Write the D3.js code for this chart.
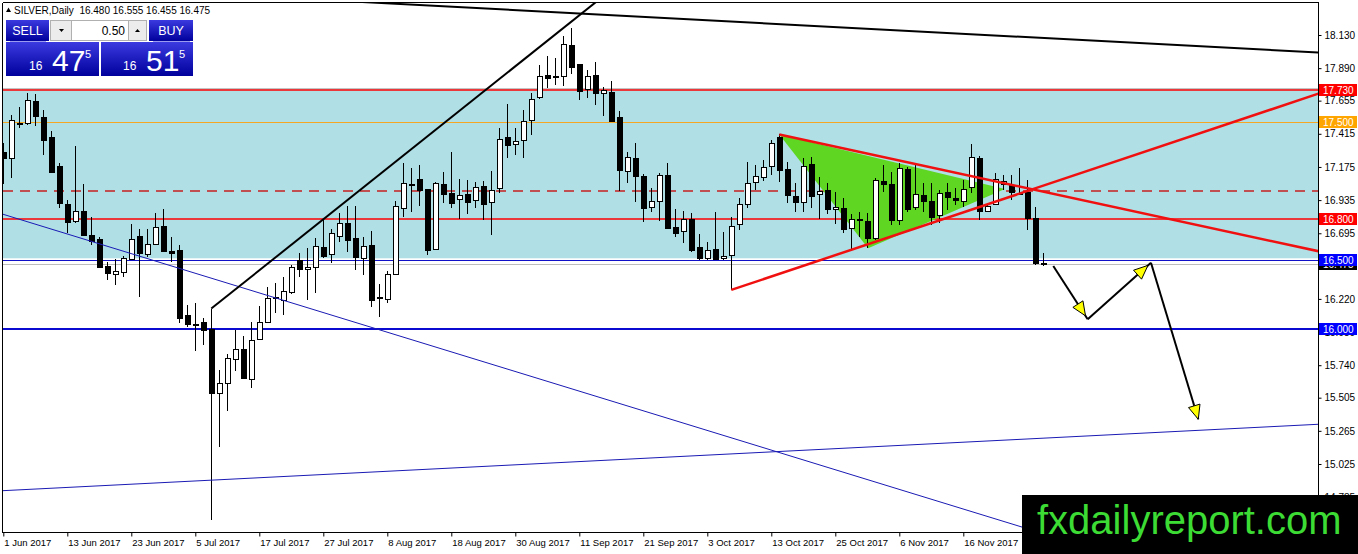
<!DOCTYPE html>
<html>
<head>
<meta charset="utf-8">
<title>SILVER, Daily</title>
<script src="https://cdn.jsdelivr.net/npm/d3@7/dist/d3.min.js"></script>
<style>
    body { margin: 0; background: #ffffff; }
    svg { display: block; font-family: "Liberation Sans", Arial, sans-serif; }
</style>
</head>
<body>
<script>
//daily bars of SILVER starting 1 Jun 2017 (one entry per bar)
var opens = [17.28,17.24,17.485,17.495,17.655,17.54,17.39,17.18,16.91,16.785,16.855,16.68,16.655,16.455,16.40,16.415,16.51,16.675,16.545,16.62,
    16.75,16.565,16.575,16.10,16.04,16.05,16.00,15.54,15.61,15.79,15.855,15.64,15.935,16.05,16.225,16.218,16.27,16.50,16.435,16.45,
    16.595,16.54,16.675,16.77,16.66,16.52,16.61,16.235,16.218,16.40,16.88,17.055,17.09,17.015,16.58,17.05,16.985,16.94,16.98,16.935,
    17.04,16.92,17.02,17.39,17.34,17.37,17.515,17.68,17.84,17.83,17.83,18.058,17.92,17.737,17.84,17.71,17.72,17.535,17.146,17.242,
    17.112,16.888,16.93,17.117,16.74,16.712,16.80,16.594,16.514,16.58,16.514,16.538,16.762,16.907,17.064,17.10,17.177,17.394,17.158,16.965,
    16.92,17.194,16.977,17.01,16.871,16.876,16.731,16.80,16.784,16.659,17.074,17.05,16.791,17.158,16.88,16.972,16.929,16.822,16.992,16.948,
    16.929,17.025,17.238,16.856,16.905,17.05,17.045,16.99,16.992,16.804,16.480];
var highs = [17.35,17.55,17.61,17.71,17.70,17.59,17.435,17.205,16.935,17.33,17.05,16.81,16.67,16.49,16.51,16.53,16.76,16.725,16.725,16.845,
    16.87,16.67,16.61,16.175,16.19,16.08,16.15,15.705,15.82,15.995,15.95,16.05,16.17,16.305,16.335,16.38,16.466,16.555,16.585,16.66,
    16.79,16.725,16.84,16.89,16.89,16.665,16.715,16.33,16.42,16.925,17.205,17.165,17.19,17.015,17.065,17.14,17.28,17.09,17.08,17.065,
    17.07,17.145,17.455,17.63,17.455,17.59,17.71,17.915,17.98,17.96,18.12,18.18,17.92,17.877,17.937,17.756,17.80,17.58,17.28,17.35,
    17.124,17.02,17.13,17.20,16.869,16.856,16.844,16.688,16.634,16.847,16.707,16.815,16.948,17.209,17.19,17.225,17.37,17.41,17.209,17.057,
    17.242,17.25,17.10,17.057,16.996,16.948,16.833,16.851,16.84,17.093,17.19,17.14,17.20,17.177,17.20,17.057,17.057,17.008,17.057,17.02,
    17.08,17.339,17.257,16.912,17.129,17.117,17.117,17.165,17.08,16.888,16.555];
var lows = [17.05,17.095,17.46,17.48,17.47,17.26,17.14,16.88,16.70,16.77,16.68,16.61,16.445,16.36,16.32,16.38,16.50,16.235,16.52,16.61,
    16.56,16.49,16.045,16.02,15.84,15.885,14.62,15.15,15.41,15.70,15.645,15.575,15.92,16.05,16.12,16.105,16.256,16.38,16.21,16.26,
    16.515,16.48,16.635,16.56,16.43,16.395,16.16,16.09,16.19,16.40,16.815,16.85,16.89,16.54,16.575,16.915,16.88,16.795,16.835,16.875,
    16.79,16.68,16.99,17.24,17.26,17.24,17.405,17.67,17.745,17.77,17.76,17.85,17.66,17.672,17.624,17.544,17.51,17.00,17.061,16.92,
    16.78,16.852,16.786,16.73,16.67,16.627,16.562,16.50,16.50,16.50,16.50,16.285,16.72,16.88,17.01,17.07,17.117,17.064,16.912,16.852,
    16.847,16.876,16.80,16.833,16.76,16.695,16.567,16.67,16.587,16.647,16.996,16.755,16.755,16.852,16.864,16.847,16.755,16.767,16.864,16.90,
    16.888,16.985,16.791,16.847,16.90,17.008,16.936,16.972,16.719,16.466,16.455];
var closes = [17.235,17.515,17.495,17.66,17.545,17.37,17.14,16.91,16.78,16.855,16.68,16.635,16.455,16.405,16.42,16.515,16.655,16.55,16.615,16.74,
    16.57,16.55,16.085,16.035,16.03,15.99,15.54,15.61,15.79,15.86,15.645,15.925,16.055,16.225,16.235,16.28,16.45,16.435,16.45,16.60,
    16.53,16.695,16.77,16.645,16.525,16.605,16.21,16.225,16.40,16.89,17.06,17.05,17.01,16.575,17.06,16.975,16.915,16.97,16.925,17.03,
    16.91,17.005,17.375,17.33,17.365,17.51,17.665,17.83,17.815,17.83,18.065,17.90,17.727,17.833,17.708,17.73,17.51,17.148,17.245,17.112,
    16.883,16.93,17.12,16.731,16.70,16.80,16.574,16.514,16.574,16.507,16.53,16.75,16.907,17.057,17.11,17.172,17.346,17.158,16.967,16.92,
    17.184,16.96,17.0,16.871,16.888,16.726,16.799,16.791,16.659,17.08,17.054,16.791,17.165,16.871,16.977,16.931,16.815,16.984,16.953,16.931,
    17.013,17.245,16.856,16.895,17.086,17.075,16.992,16.98,16.804,16.478,16.475];

//time scale labels, one every 8 bars
var dateLabels = ["1 Jun 2017","13 Jun 2017","23 Jun 2017","5 Jul 2017","17 Jul 2017","27 Jul 2017","8 Aug 2017","18 Aug 2017",
    "30 Aug 2017","11 Sep 2017","21 Sep 2017","3 Oct 2017","13 Oct 2017","25 Oct 2017","6 Nov 2017","16 Nov 2017"];
var barsPerLabel = 8;

//price scale tick labels
var priceTicks = [18.130,17.890,17.655,17.415,17.175,16.935,16.695,16.455,16.220,15.980,15.740,15.505,15.265,15.025,14.785];

//horizontal levels
var zonePrices = [17.744, 16.514]; //light blue support/resistance box
var redLevels = [17.730, 16.800];
var orangeLevels = [17.500];
var dashedLevels = [17.000];
var blueLevels = [16.500];
var thickBlueLevels = [16.000];
var bidPrice = 16.475;
var askPrice = 16.515;

//trendlines as [bar index, price] pairs
var topBlackLine = [[47.09, 18.362], [164.34, 18.003]];
var upBlackLine = [[26, 16.15], [73.94, 18.362]];
var downBlueLine = [[0, 16.832], [127.09, 14.573]];
var upBlueLine = [[0, 14.832], [160.8, 15.302]];
var upperRedLine = [[97, 17.41], [160.8, 16.610]];
var lowerRedLine = [[91, 16.285], [160.8, 17.636]];
var greenTriangle = [[97, 17.41], [108.1, 16.587], [125.2, 17.015]];

//projected path drawn with arrows
var projection = [[131.25, 16.458], [135.55, 16.073], [143.46, 16.482], [149.375, 15.349]];

(function(){

    var width = 1358, height = 554;
    var plotLeft = 3, plotTop = 3, plotRight = 1318, plotBottom = 532;

    var svg = d3.select("body").append("svg")
        .attr("width", width)
        .attr("height", height);

    svg.append("rect").attr("width", width).attr("height", height).attr("fill", "#ffffff");

    //bar index -> x, price -> y
    var x = d3.scaleLinear().domain([0, 130]).range([3.3, 1043.3]);
    var y = d3.scaleLinear().domain([15.025, 18.130]).range([464, 35]);

    svg.append("clipPath").attr("id", "plotClip")
        .append("rect")
        .attr("x", plotLeft).attr("y", plotTop)
        .attr("width", plotRight - plotLeft).attr("height", plotBottom - plotTop);

    var plot = svg.append("g").attr("clip-path", "url(#plotClip)");

    //light blue zone
    plot.append("rect")
        .attr("x", plotLeft).attr("width", plotRight - plotLeft)
        .attr("y", y(zonePrices[0])).attr("height", y(zonePrices[1]) - y(zonePrices[0]))
        .attr("fill", "#b0dfe6");
    plot.append("line")
        .attr("x1", plotLeft).attr("x2", plotRight)
        .attr("y1", Math.round(y(zonePrices[0])) + 0.5).attr("y2", Math.round(y(zonePrices[0])) + 0.5)
        .attr("stroke", "#c4c4c4");

    //horizontal level helper
    function hLine(price, color, w, dash){
        var yy = Math.round(y(price)) + (w % 2 == 1 ? 0.5 : 0);
        var l = plot.append("line")
            .attr("x1", plotLeft).attr("x2", plotRight)
            .attr("y1", yy).attr("y2", yy)
            .attr("stroke", color).attr("stroke-width", w);
        if (dash) l.attr("stroke-dasharray", dash);
    }
    redLevels.forEach(function(p){ hLine(p, "#ff0000", 1.6); });
    orangeLevels.forEach(function(p){ hLine(p, "#f5a623", 1); });
    dashedLevels.forEach(function(p){ hLine(p, "#c42020", 1.6, "10,7"); });
    hLine(bidPrice, "#bdbdbd", 1);
    blueLevels.forEach(function(p){ hLine(p, "#1010c8", 1); });
    thickBlueLevels.forEach(function(p){ hLine(p, "#0a0ad0", 2); });

    //green triangle in the background
    plot.append("polygon")
        .attr("points", greenTriangle.map(function(d){ return x(d[0]) + "," + y(d[1]); }).join(" "))
        .attr("fill", "#5fd622");

    //candles
    var bars = d3.range(opens.length).map(function(i){
        return {i: i, o: opens[i], h: highs[i], l: lows[i], c: closes[i]};
    });

    var candle = plot.selectAll(".candle")
        .data(bars)
        .enter()
        .append("g")
        .attr("class", "candle")
        .attr("shape-rendering", "crispEdges");

    candle.append("line")
        .attr("x1", function(d){ return Math.round(x(d.i)) + 0.5; })
        .attr("x2", function(d){ return Math.round(x(d.i)) + 0.5; })
        .attr("y1", function(d){ return y(d.h); })
        .attr("y2", function(d){ return y(d.l); })
        .attr("stroke", "#000");

    candle.append("rect")
        .attr("x", function(d){ return Math.round(x(d.i)) - 2; })
        .attr("width", 5)
        .attr("y", function(d){ return Math.round(y(Math.max(d.o, d.c))) + 0.5; })
        .attr("height", function(d){ return Math.max(1, Math.round(Math.abs(y(d.o) - y(d.c)))); })
        .attr("fill", function(d){ return d.c >= d.o ? "#ffffff" : "#000000"; })
        .attr("stroke", "#000");

    //trendline helper, extended between two bar indexes
    function extend(pts, i0, i1){
        var slope = (pts[1][1] - pts[0][1]) / (pts[1][0] - pts[0][0]);
        return [[i0, pts[0][1] + slope * (i0 - pts[0][0])], [i1, pts[0][1] + slope * (i1 - pts[0][0])]];
    }
    function trend(pts, color, w){
        plot.append("line")
            .attr("x1", x(pts[0][0])).attr("y1", y(pts[0][1]))
            .attr("x2", x(pts[1][0])).attr("y2", y(pts[1][1]))
            .attr("stroke", color).attr("stroke-width", w);
    }

    trend(extend(downBlueLine, -2, 170), "#1a1ab4", 1);
    trend(extend(upBlueLine, -2, 170), "#1a1ab4", 1);
    trend(extend(topBlackLine, 40, 170), "#000", 2);
    trend(extend(upBlackLine, 26, 80), "#000", 2);
    trend(extend(upperRedLine, 97, 170), "#f01010", 2.5);
    trend(extend(lowerRedLine, 91, 170), "#f01010", 2.5);

    //projection arrows
    var pp = projection.map(function(d){ return [x(d[0]), y(d[1])]; });
    for (var k = 0; k < pp.length - 1; k++){
        var a = pp[k], b = pp[k + 1];
        plot.append("line")
            .attr("x1", a[0]).attr("y1", a[1]).attr("x2", b[0]).attr("y2", b[1])
            .attr("stroke", "#000").attr("stroke-width", 2);
        var dx = b[0] - a[0], dy = b[1] - a[1], len = Math.sqrt(dx * dx + dy * dy);
        var ux = dx / len, uy = dy / len;
        var back = (k == pp.length - 2) ? 0 : 4;
        var tip = [b[0] - ux * back, b[1] - uy * back];
        var base = [tip[0] - ux * 14, tip[1] - uy * 14];
        plot.append("polygon")
            .attr("points", [tip, [base[0] - uy * 6, base[1] + ux * 6], [base[0] + uy * 6, base[1] - ux * 6]]
                .map(function(p){ return p[0] + "," + p[1]; }).join(" "))
            .attr("fill", "#ffff00").attr("stroke", "#000").attr("stroke-width", 1);
    }

    //frame
    var frame = svg.append("g").attr("shape-rendering", "crispEdges");
    frame.append("line").attr("x1", 2.5).attr("x2", plotRight + 0.5).attr("y1", 2.5).attr("y2", 2.5).attr("stroke", "#000");
    frame.append("line").attr("x1", 2.5).attr("x2", 2.5).attr("y1", 2.5).attr("y2", plotBottom + 0.5).attr("stroke", "#000");
    frame.append("line").attr("x1", plotRight + 0.5).attr("x2", plotRight + 0.5).attr("y1", 2.5).attr("y2", plotBottom + 0.5).attr("stroke", "#000");
    frame.append("line").attr("x1", 2.5).attr("x2", plotRight + 0.5).attr("y1", plotBottom + 0.5).attr("y2", plotBottom + 0.5).attr("stroke", "#000");

    //price axis
    var fmt = d3.format(".3f");
    var yAxis = svg.append("g").attr("transform", "translate(" + (plotRight + 0.5) + ",0)")
        .call(d3.axisRight(y).tickValues(priceTicks).tickFormat(fmt).tickSize(3).tickPadding(3));
    yAxis.select(".domain").remove();
    yAxis.selectAll("text").attr("font-size", "10px").attr("font-family", "Liberation Sans, Arial, sans-serif").attr("fill", "#000");
    yAxis.selectAll("line").attr("stroke", "#000");

    //coloured price labels
    function priceLabel(price, bg){
        var g = svg.append("g").attr("transform", "translate(" + (plotRight + 1) + "," + Math.round(y(price)) + ")");
        g.append("rect").attr("x", 0).attr("y", -6).attr("width", 38).attr("height", 12).attr("fill", bg);
        g.append("text").attr("x", 4).attr("y", 4).attr("font-size", "10px").attr("fill", "#fff").text(fmt(price));
    }
    priceLabel(bidPrice, "#000000");
    redLevels.forEach(function(p){ priceLabel(p, "#ff0000"); });
    orangeLevels.forEach(function(p){ priceLabel(p, "#ffa500"); });
    blueLevels.forEach(function(p){ priceLabel(p, "#0000ff"); });
    thickBlueLevels.forEach(function(p){ priceLabel(p, "#0000ff"); });

    //time axis
    var tickIdx = dateLabels.map(function(d, i){ return i * barsPerLabel; });
    var xAxis = svg.append("g").attr("transform", "translate(0," + (plotBottom + 0.5) + ")")
        .call(d3.axisBottom(x).tickValues(tickIdx).tickFormat(function(d){ return dateLabels[d / barsPerLabel]; })
            .tickSize(4).tickPadding(3));
    xAxis.select(".domain").remove();
    xAxis.selectAll("line").attr("stroke", "#000");
    xAxis.selectAll("text").attr("text-anchor", "start").attr("dx", "0.5")
        .attr("font-size", "9.5px").attr("font-family", "Liberation Sans, Arial, sans-serif").attr("fill", "#000");

    //header text
    var last = opens.length - 1;
    svg.append("polygon").attr("points", "6,12 11,12 8.5,7.5").attr("fill", "#000");
    svg.append("text").attr("x", 14).attr("y", 14).attr("font-size", "10px").attr("fill", "#000")
        .attr("xml:space", "preserve")
        .text("SILVER,Daily  " + [opens[last], highs[last], lows[last], closes[last]].map(fmt).join(" "));

    //one-click trading panel
    var defs = svg.append("defs");
    var grad = defs.append("linearGradient").attr("id", "blueGrad").attr("x1", 0).attr("y1", 0).attr("x2", 0).attr("y2", 1);
    grad.append("stop").attr("offset", "0%").attr("stop-color", "#3a3ae0");
    grad.append("stop").attr("offset", "100%").attr("stop-color", "#00009c");

    var panel = svg.append("g");
    panel.append("rect").attr("x", 6).attr("y", 20).attr("width", 43).attr("height", 21).attr("fill", "url(#blueGrad)");
    panel.append("rect").attr("x", 149).attr("y", 20).attr("width", 44).attr("height", 21).attr("fill", "url(#blueGrad)");
    panel.append("rect").attr("x", 6).attr("y", 42).attr("width", 93).attr("height", 34).attr("fill", "url(#blueGrad)");
    panel.append("rect").attr("x", 101).attr("y", 42).attr("width", 92).attr("height", 34).attr("fill", "url(#blueGrad)");
    panel.append("line").attr("x1", 10).attr("x2", 46).attr("y1", 41.5).attr("y2", 41.5).attr("stroke", "#9a9af0");
    panel.append("line").attr("x1", 153).attr("x2", 190).attr("y1", 41.5).attr("y2", 41.5).attr("stroke", "#9a9af0");
    panel.append("text").attr("x", 27.5).attr("y", 35).attr("text-anchor", "middle").attr("font-size", "12.5px").attr("fill", "#fff").text("SELL");
    panel.append("text").attr("x", 171).attr("y", 35).attr("text-anchor", "middle").attr("font-size", "12.5px").attr("fill", "#fff").text("BUY");

    //lot spinner
    panel.append("rect").attr("x", 50.5).attr("y", 20.5).attr("width", 96).attr("height", 20).attr("fill", "#fff").attr("stroke", "#b0b0b0");
    panel.append("rect").attr("x", 50.5).attr("y", 20.5).attr("width", 21).attr("height", 20).attr("fill", "#ececec").attr("stroke", "#b0b0b0");
    panel.append("rect").attr("x", 128.5).attr("y", 20.5).attr("width", 18).attr("height", 20).attr("fill", "#ececec").attr("stroke", "#b0b0b0");
    panel.append("polygon").attr("points", "59,29 64,29 61.5,32").attr("fill", "#000");
    panel.append("polygon").attr("points", "135,32 140,32 137.5,29").attr("fill", "#000");
    panel.append("text").attr("x", 125).attr("y", 35).attr("text-anchor", "end").attr("font-size", "12px").attr("fill", "#000").text("0.50");

    //quoted prices
    function quote(x0, price){
        var s = fmt(price);
        panel.append("text").attr("x", x0).attr("y", 70).attr("font-size", "12px").attr("fill", "#fff").text(s.slice(0, 2));
        panel.append("text").attr("x", x0 + 23).attr("y", 71).attr("font-size", "30px").attr("fill", "#fff").text(s.slice(3, 5));
        panel.append("text").attr("x", x0 + 56).attr("y", 58).attr("font-size", "11px").attr("fill", "#fff").text(s.slice(5, 6));
    }
    quote(29, bidPrice);
    quote(123, askPrice);

    //watermark
    svg.append("rect").attr("x", 1022).attr("y", 495).attr("width", 336).attr("height", 59).attr("fill", "#000");
    svg.append("text").attr("x", 1037).attr("y", 534).attr("font-size", "40px").attr("fill", "#3ddc35").text("fxdailyreport.com");

})();
</script>
</body>
</html>
